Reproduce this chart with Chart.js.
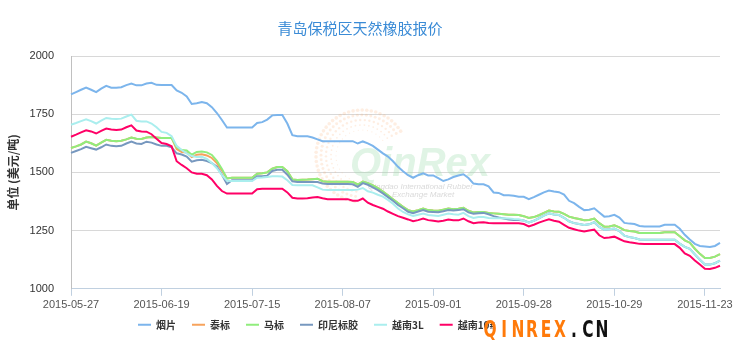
<!DOCTYPE html>
<html><head><meta charset="utf-8">
<script src="https://cdn.jsdelivr.net/npm/chart.js@4.4.1/dist/chart.umd.min.js"></script>
<style>html,body{margin:0;padding:0;background:#fff;}</style>
</head><body>
<canvas id="c" width="739" height="351"></canvas>
<script>
const dates = [
'2015-05-27','2015-05-28','2015-05-29','2015-06-01','2015-06-02','2015-06-03','2015-06-04','2015-06-05','2015-06-08','2015-06-09','2015-06-10','2015-06-11','2015-06-12','2015-06-13','2015-06-15','2015-06-16','2015-06-17','2015-06-18',
'2015-06-19','2015-06-22','2015-06-23','2015-06-24','2015-06-25','2015-06-26','2015-06-29','2015-06-30','2015-07-01','2015-07-02','2015-07-03','2015-07-06','2015-07-07','2015-07-08','2015-07-09','2015-07-10','2015-07-13','2015-07-14',
'2015-07-15','2015-07-16','2015-07-17','2015-07-18','2015-07-20','2015-07-21','2015-07-22','2015-07-23','2015-07-24','2015-07-27','2015-07-28','2015-07-29','2015-07-30','2015-07-31','2015-08-03','2015-08-04','2015-08-05','2015-08-06',
'2015-08-07','2015-08-08','2015-08-10','2015-08-11','2015-08-12','2015-08-13','2015-08-14','2015-08-17','2015-08-18','2015-08-19','2015-08-20','2015-08-21','2015-08-24','2015-08-25','2015-08-26','2015-08-27','2015-08-28','2015-08-31',
'2015-09-01','2015-09-02','2015-09-04','2015-09-07','2015-09-08','2015-09-09','2015-09-10','2015-09-11','2015-09-14','2015-09-15','2015-09-16','2015-09-17','2015-09-18','2015-09-21','2015-09-22','2015-09-23','2015-09-24','2015-09-25',
'2015-09-28','2015-09-29','2015-09-30','2015-10-08','2015-10-09','2015-10-12','2015-10-13','2015-10-14','2015-10-15','2015-10-16','2015-10-19','2015-10-20','2015-10-21','2015-10-22','2015-10-23','2015-10-26','2015-10-27','2015-10-28',
'2015-10-29','2015-10-30','2015-10-31','2015-11-02','2015-11-03','2015-11-04','2015-11-05','2015-11-06','2015-11-09','2015-11-10','2015-11-11','2015-11-12','2015-11-13','2015-11-16','2015-11-17','2015-11-18','2015-11-19','2015-11-20',
'2015-11-23','2015-11-24','2015-11-25','2015-11-26'];

const shownDates = ['2015-05-27','2015-06-19','2015-07-15','2015-08-07','2015-09-01','2015-09-28','2015-10-29','2015-11-23'];
const yTicks = [1000, 1250, 1500, 1750, 2000];

const seriesNames = ['烟片','泰标','马标','印尼标胶','越南3L','越南10#'];
const seriesColors = ['#7cb5ec','#f7a35c','#90ed7d','#7798BF','#aaeeee','#ff0066'];

const yanpian = [
1835,1845,1855,1864,1855,1845,1860,1872,1864,1864,
1866,1875,1882,1874,1874,1882,1885,1876,1875,1875,
1875,1852,1842,1826,1794,1797,1802,1797,1780,1755,
1725,1693,1693,1693,1693,1693,1693,1712,1716,1727,
1745,1747,1747,1710,1660,1655,1655,1655,1650,1642,
1634,1634,1634,1634,1634,1634,1634,1624,1633,1625,
1614,1598,1582,1568,1548,1524,1505,1488,1477,1488,
1496,1487,1487,1475,1463,1470,1480,1487,1492,1476,
1452,1449,1449,1440,1414,1412,1402,1402,1400,1395,
1395,1385,1394,1404,1414,1422,1418,1415,1405,1378,
1368,1352,1338,1340,1346,1328,1310,1312,1318,1306,
1283,1280,1278,1270,1268,1268,1268,1268,1275,1275,
1275,1258,1232,1212,1193,1184,1182,1180,1184,1197];

const taibiao = [
1605,1612,1620,1632,1625,1615,1628,1640,1636,1634,
1636,1642,1650,1645,1644,1650,1652,1650,1648,1648,
1648,1600,1588,1585,1566,1576,1578,1573,1562,1540,
1508,1474,1477,1477,1477,1477,1477,1494,1496,1500,
1516,1523,1523,1505,1470,1467,1468,1469,1471,1473,
1462,1460,1460,1460,1460,1460,1459,1448,1461,1454,
1444,1432,1418,1402,1385,1368,1352,1338,1332,1338,
1345,1338,1336,1335,1340,1345,1342,1344,1348,1335,
1328,1330,1330,1326,1324,1322,1320,1318,1318,1317,
1312,1304,1308,1316,1326,1336,1332,1331,1322,1310,
1304,1300,1295,1296,1302,1282,1267,1268,1273,1264,
1252,1248,1246,1240,1240,1240,1240,1240,1243,1243,
1243,1226,1208,1198,1172,1150,1132,1132,1138,1149];

const mabiao = [
1605,1612,1620,1632,1625,1615,1628,1640,1636,1634,
1636,1642,1650,1645,1644,1650,1652,1650,1648,1648,
1648,1608,1596,1594,1576,1588,1590,1586,1575,1550,
1515,1474,1477,1477,1477,1477,1477,1494,1496,1500,
1516,1523,1523,1505,1470,1467,1468,1469,1471,1473,
1462,1460,1460,1460,1460,1460,1459,1448,1461,1454,
1444,1432,1418,1402,1385,1368,1352,1338,1332,1338,
1345,1338,1336,1335,1340,1345,1342,1344,1348,1335,
1328,1330,1330,1326,1324,1322,1320,1318,1318,1317,
1312,1304,1308,1316,1326,1336,1332,1331,1322,1310,
1304,1300,1295,1296,1302,1282,1267,1268,1273,1264,
1252,1248,1246,1240,1240,1240,1240,1240,1243,1243,
1243,1226,1208,1198,1172,1150,1132,1132,1138,1149];

const yinni = [
1584,1592,1600,1610,1604,1598,1608,1620,1614,1612,
1614,1624,1632,1624,1622,1632,1628,1620,1614,1614,
1608,1582,1577,1568,1546,1552,1554,1549,1540,1525,
1490,1450,1466,1466,1466,1466,1466,1483,1484,1486,
1506,1511,1511,1490,1462,1459,1459,1459,1459,1459,
1452,1450,1450,1450,1450,1450,1449,1438,1454,1447,
1436,1424,1410,1394,1378,1360,1346,1331,1325,1332,
1338,1331,1330,1329,1333,1338,1336,1338,1342,1328,
1322,1325,1326,1320,1312,1306,1302,1298,1296,1295,
1293,1285,1292,1303,1314,1324,1319,1317,1305,1290,
1282,1278,1274,1277,1286,1266,1254,1256,1259,1248,
1228,1222,1218,1212,1211,1211,1211,1211,1211,1211,
1211,1194,1180,1172,1148,1125,1104,1104,1110,1121];

const yuenan3L = [
1705,1712,1720,1728,1720,1710,1722,1734,1730,1729,
1731,1740,1748,1722,1719,1719,1710,1694,1674,1670,
1656,1614,1596,1582,1570,1566,1567,1558,1540,1518,
1488,1464,1463,1463,1463,1463,1463,1477,1478,1480,
1483,1483,1482,1466,1446,1445,1445,1445,1445,1436,
1426,1424,1424,1424,1424,1424,1424,1426,1433,1419,
1413,1404,1396,1382,1365,1345,1330,1320,1313,1318,
1323,1317,1315,1313,1318,1323,1320,1318,1326,1312,
1304,1308,1308,1304,1303,1303,1303,1302,1300,1299,
1292,1285,1292,1303,1314,1324,1319,1317,1305,1290,
1282,1278,1274,1277,1286,1266,1254,1256,1259,1248,
1228,1222,1218,1212,1211,1211,1211,1211,1211,1211,
1211,1194,1180,1172,1148,1125,1104,1104,1110,1121];

const yuenan10 = [
1653,1662,1672,1681,1676,1667,1678,1688,1684,1682,
1684,1694,1702,1680,1676,1675,1664,1645,1626,1622,
1612,1548,1532,1518,1500,1494,1494,1488,1470,1442,
1420,1409,1409,1409,1409,1409,1409,1428,1430,1430,
1430,1430,1430,1414,1391,1388,1388,1389,1392,1394,
1389,1385,1385,1385,1385,1385,1378,1378,1388,1370,
1360,1352,1344,1332,1322,1312,1305,1298,1290,1295,
1302,1295,1292,1289,1292,1298,1294,1294,1302,1290,
1282,1285,1286,1283,1282,1282,1282,1282,1282,1282,
1278,1268,1275,1284,1292,1299,1292,1288,1275,1262,
1256,1250,1246,1250,1254,1230,1218,1220,1224,1214,
1204,1200,1197,1193,1192,1192,1192,1192,1192,1192,
1192,1176,1152,1142,1122,1104,1086,1085,1090,1099];

const seriesValues = [yanpian, taibiao, mabiao, yinni, yuenan3L, yuenan10];

const FONT = '"Liberation Sans", "Noto Sans CJK SC", sans-serif';
const CJK = '"Noto Sans CJK SC", "Liberation Sans", sans-serif';

const watermark = {
  id: 'watermark',
  beforeDatasetsDraw(chart) {
    const ctx = chart.ctx;
    ctx.save();
    const cx = 362, cy = 156;
    for (let r = 26; r <= 48; r += 5) {
      const n = Math.round(r * 0.9);
      for (let k = 0; k < n; k++) {
        const a = Math.PI * 0.55 + (Math.PI * 1.3) * k / n;
        const dr = 0.6 + (r - 26) / 22 * 1.3;
        ctx.fillStyle = 'rgba(248,170,110,0.2)';
        ctx.beginPath();
        ctx.arc(cx + r * Math.cos(a), cy + r * Math.sin(a), dr, 0, Math.PI * 2);
        ctx.fill();
      }
    }
    ctx.font = 'italic bold 40px ' + FONT;
    ctx.fillStyle = 'rgba(160,222,175,0.32)';
    ctx.textBaseline = 'alphabetic';
    ctx.fillText('QinRex', 350, 176);
    ctx.font = 'italic 8px ' + FONT;
    ctx.fillStyle = 'rgba(160,160,160,0.4)';
    ctx.fillText('Qingdao International Rubber', 368, 189);
    ctx.fillText('Exchange Market', 392, 197);
    ctx.restore();
  },
  afterDraw(chart) {
    const ctx = chart.ctx;
    ctx.save();
    ctx.font = 'bold 22px "DejaVu Sans", ' + FONT;
    ctx.textAlign = 'center';
    ctx.textBaseline = 'alphabetic';
    const chars = ['Q','I','N','R','E','X','.','C','N'];
    chars.forEach((ch, k) => {
      ctx.save();
      ctx.translate(490 + 14 * k, 337);
      ctx.scale(0.7, 1.05);
      ctx.fillStyle = k < 6 ? '#ff7a0a' : '#111111';
      ctx.fillText(ch, 0, 0);
      ctx.restore();
    });
    ctx.restore();
  }
};

const legendShift = {
  id: 'legendShift',
  afterLayout(chart) {
    const lg = chart.legend;
    if (lg) {
      lg.left = 122;
      lg.top = chart.scales.x.top + 15;
    }
  }
};

new Chart(document.getElementById('c'), {
  type: 'line',
  data: {
    labels: dates,
    datasets: seriesNames.map((name, i) => ({
      label: name,
      data: seriesValues[i],
      borderColor: seriesColors[i],
      backgroundColor: seriesColors[i],
      borderWidth: 2,
      pointRadius: 0,
      tension: 0,
      fill: false,
      order: 5 - i
    }))
  },
  options: {
    responsive: false,
    animation: false,
    devicePixelRatio: 1,
    layout: { padding: { left: 0, right: 19, top: 0, bottom: 0 } },
    plugins: {
      title: {
        display: true,
        text: '青岛保税区天然橡胶报价',
        color: '#3a8bd6',
        font: { family: CJK, size: 15, weight: 'normal' },
        padding: { top: 19, bottom: 19 }
      },
      legend: {
        position: 'bottom',
        align: 'start',
        labels: {
          boxWidth: 13,
          boxHeight: 2,
          padding: 16,
          color: '#333333',
          font: { family: CJK, size: 10, weight: 'bold' },
          sort: (a, b) => a.datasetIndex - b.datasetIndex,
          generateLabels: (chart) => Chart.defaults.plugins.legend.labels.generateLabels(chart).map(l => Object.assign(l, { lineWidth: 0 }))
        }
      },
      tooltip: { enabled: false }
    },
    scales: {
      x: {
        type: 'category',
        offset: false,
        grid: { display: true, drawOnChartArea: false, drawTicks: true, tickLength: 7, color: '#C0D0E0' },
        border: { display: true, color: '#C0D0E0' },
        ticks: {
          autoSkip: false,
          maxRotation: 0,
          padding: 3,
          color: '#555555',
          font: { family: FONT, size: 11 },
          callback: function (v, i) { return shownDates.includes(dates[i]) ? dates[i] : null; }
        }
      },
      y: {
        min: yTicks[0],
        max: yTicks[yTicks.length - 1],
        afterBuildTicks: (s) => { s.ticks = yTicks.map(v => ({ value: v })); },
        ticks: { padding: 17, color: '#333333', font: { family: FONT, size: 11 }, callback: (v) => String(v) },
        grid: { color: '#D8D8D8', drawTicks: false },
        border: { display: true, color: '#C0C0C0' },
        title: {
          display: true,
          text: '单位 (美元/吨)',
          color: '#333333',
          font: { family: CJK, size: 12, weight: 'bold' },
          padding: { top: 6, bottom: 0 }
        },
        afterFit: (s) => { s.width = 71; }
      }
    }
  },
  plugins: [watermark, legendShift]
});
</script>
</body></html>
